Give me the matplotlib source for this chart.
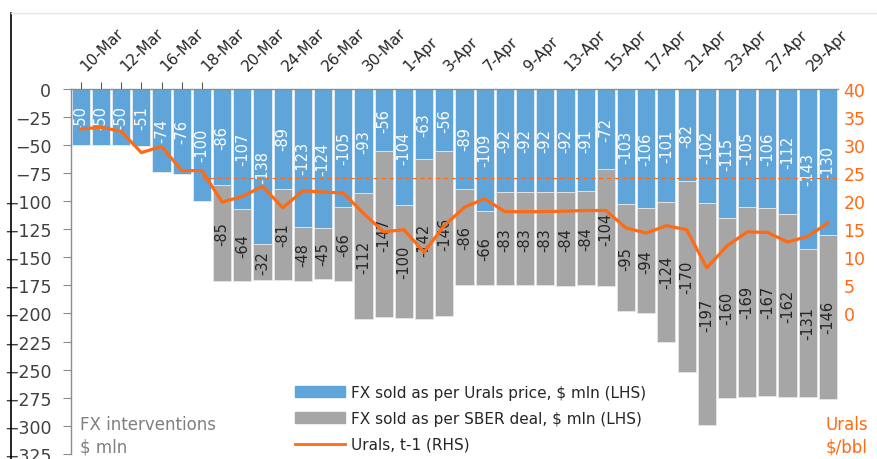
import numpy as np
import matplotlib
matplotlib.use("Agg")
import matplotlib.pyplot as plt
from matplotlib.patches import Patch
from matplotlib.lines import Line2D

# dates of each trading day (every other one is labelled)
dates = ["10-Mar", "11-Mar", "12-Mar", "13-Mar", "16-Mar", "17-Mar", "18-Mar", "19-Mar",
         "20-Mar", "23-Mar", "24-Mar", "25-Mar", "26-Mar", "27-Mar", "30-Mar", "31-Mar",
         "1-Apr", "2-Apr", "3-Apr", "6-Apr", "7-Apr", "8-Apr", "9-Apr", "10-Apr",
         "13-Apr", "14-Apr", "15-Apr", "16-Apr", "17-Apr", "20-Apr", "21-Apr", "22-Apr",
         "23-Apr", "24-Apr", "27-Apr", "28-Apr", "29-Apr", "30-Apr"]

# FX sold as per Urals price, $ mln
fx_urals = [-50, -50, -50, -51, -74, -76, -100, -86, -107, -138, -89, -123, -124, -105,
            -93, -56, -104, -63, -56, -89, -109, -92, -92, -92, -92, -91, -72, -103,
            -106, -101, -82, -102, -115, -105, -106, -112, -143, -130]

# FX sold as per SBER deal, $ mln
fx_sber = [0, 0, 0, 0, 0, 0, 0, -85, -64, -32, -81, -48, -45, -66, -112, -147, -100,
           -142, -146, -86, -66, -83, -83, -83, -84, -84, -104, -95, -94, -124, -170,
           -197, -160, -169, -167, -162, -131, -146]

# Urals, t-1, $/bbl
urals = [32.8, 33.1, 32.4, 28.6, 29.7, 25.4, 25.4, 19.8, 20.8, 22.6, 18.8, 21.8, 21.6,
         21.4, 17.8, 14.5, 14.9, 10.9, 15.6, 18.9, 20.4, 18.1, 18.1, 18.1, 18.2, 18.3,
         18.3, 15.2, 14.3, 15.6, 14.9, 8.1, 12.0, 14.5, 14.4, 12.7, 13.7, 16.1]

ref_price = 24  # dashed reference line, $/bbl

blue = '#5fa5d9'
grey = '#a6a6a6'
orange = '#ff6a13'
txt = '#404040'

plt.rcParams['font.family'] = ['DejaVu Sans']

fig = plt.figure(figsize=(8.78, 4.60), dpi=100)
ax = fig.add_axes([0.0805, 0.0109, 0.874, 0.7945])

x = np.arange(len(dates))
u = np.array(fx_urals)
s = np.array(fx_sber)
ax.bar(x, u, width=0.9, color=blue, edgecolor='#e6eef5', linewidth=0.6, zorder=2)
ax.bar(x, s, bottom=u, width=0.9, color=grey, edgecolor='#e6e6e6', linewidth=0.6, zorder=2)

for i in range(len(x)):
    ax.text(x[i], u[i] / 2, str(u[i]), rotation=90, ha='center', va='center',
            color='white', fontsize=10.5, zorder=3)
    if s[i] != 0:
        ax.text(x[i], u[i] + s[i] / 2, str(s[i]), rotation=90, ha='center', va='center',
                color='#262626', fontsize=10.5, zorder=3)

ax.set_xlim(-0.5, len(dates) - 0.5)
ax.set_ylim(-325, 0)
ax.set_yticks(np.arange(-325, 1, 25))
ax.tick_params(axis='y', direction='out', length=6, color='#8c8c8c', labelsize=12.5,
               labelcolor=txt, pad=8)

# category labels above the plot, every other day, tilted 45 degrees
ax.xaxis.tick_top()
ax.set_xticks(x[:7])
ax.set_xticklabels([])
ax.tick_params(axis='x', direction='out', length=5, color='#595959')
for i in range(0, len(dates), 2):
    ax.annotate(dates[i], xy=(x[i], 1), xycoords=('data', 'axes fraction'),
                xytext=(5.3, 11.2), textcoords='offset points', rotation=45,
                rotation_mode='anchor', ha='left', va='bottom', fontsize=11,
                color='#262626')

for sp in ['right', 'bottom']:
    ax.spines[sp].set_visible(False)
for sp in ['left', 'top']:
    ax.spines[sp].set_color('#8c8c8c')
    ax.spines[sp].set_linewidth(1.0)

ax2 = ax.twinx()
ax2.plot(x, urals, color=orange, lw=2.3, zorder=5)
ax2.plot([x[6], len(dates) - 0.5], [ref_price, ref_price], color=orange, lw=0.8,
         ls=(0, (4, 3)), zorder=4)
ax2.set_ylim(-25, 40)
ax2.set_yticks(np.arange(0, 41, 5))
ax2.tick_params(axis='y', length=0, labelsize=12.5, labelcolor=orange, pad=4)
for sp in ax2.spines.values():
    sp.set_visible(False)

handles = [Patch(color=blue), Patch(color=grey), Line2D([], [], color=orange, lw=2)]
labels = ['FX sold as per Urals price, \\$ mln (LHS)', 'FX sold as per SBER deal, \\$ mln (LHS)',
          'Urals, t-1 (RHS)']
fig.legend(handles, labels, loc='upper left', bbox_to_anchor=(295 / 878, 1 - 386 / 460),
           frameon=False, fontsize=11, handlelength=3.3, handleheight=0.75,
           handletextpad=0.35, labelspacing=0.72, borderpad=0, borderaxespad=0,
           labelcolor='#262626')

fig.text(80 / 878, 1 - 425 / 460, 'FX interventions', color='#7f7f7f', fontsize=12,
         va='center', ha='left')
fig.text(80 / 878, 1 - 448 / 460, '$ mln', color='#7f7f7f', fontsize=12,
         va='center', ha='left')
fig.text(868 / 878, 1 - 425 / 460, 'Urals', color=orange, fontsize=12, va='center', ha='right')
fig.text(868 / 878, 1 - 448 / 460, '$/bbl', color=orange, fontsize=12, va='center', ha='right')

# screenshot frame lines
fig.add_artist(Line2D([11 / 878, 11 / 878], [0, 1 - 14 / 460], color='black', lw=1.2))
fig.add_artist(Line2D([11 / 878, 1], [1 - 13.5 / 460, 1 - 13.5 / 460], color='#e6e6e6', lw=1))

fig.savefig('out.png', dpi=100)
